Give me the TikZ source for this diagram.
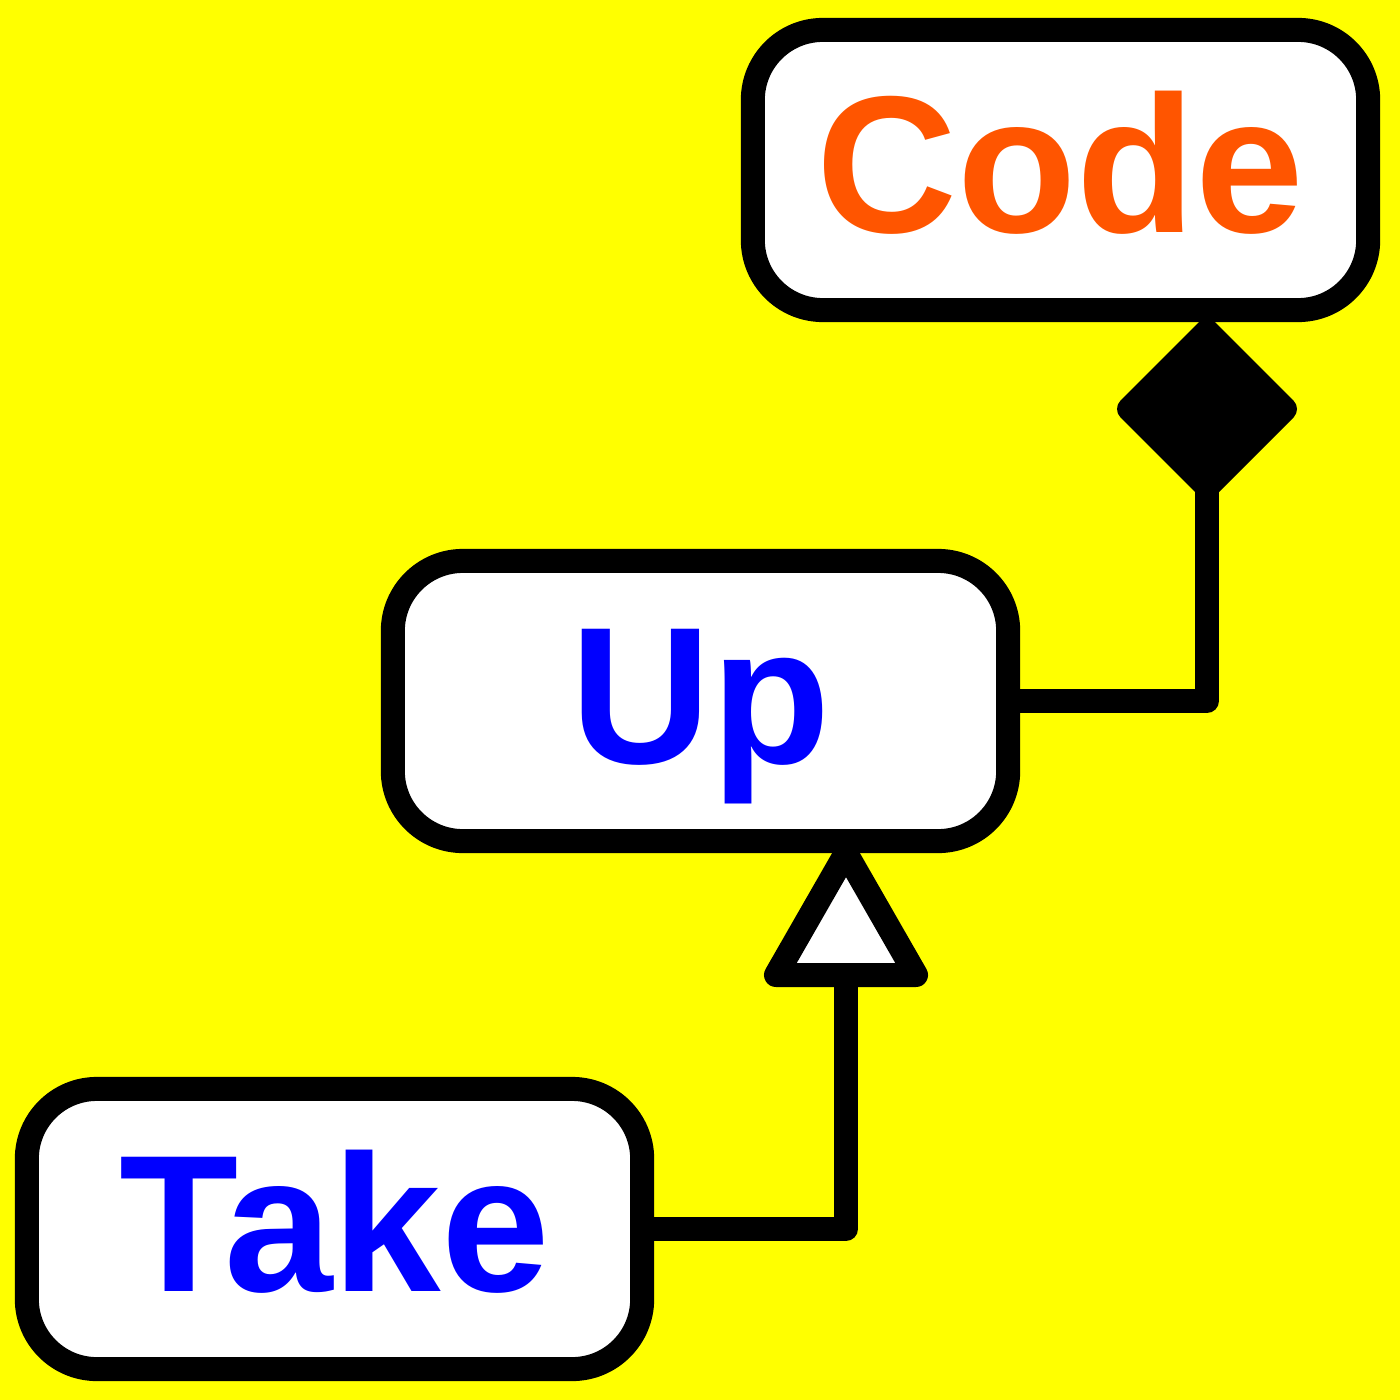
\documentclass[tikz,border=0pt]{standalone}
\usepackage{fontspec}
\setmainfont{Liberation Sans}
\definecolor{bgyellow}{HTML}{FFFF00}
\definecolor{codeorange}{HTML}{FF5500}
\definecolor{wordblue}{HTML}{0000FF}
\begin{document}
\begin{tikzpicture}[x=0.01cm,y=-0.01cm,
  box/.style={draw=black, fill=white, line width=0.24cm, rounded corners=0.70cm,
    minimum width=6.15cm, minimum height=2.8cm, inner sep=0pt,
    text height=1.40cm, text depth=0.16cm,
    font=\fontsize{55.5pt}{60pt}\selectfont\bfseries},
  conn/.style={draw=black, line width=0.24cm, line join=round}]
\fill[bgyellow] (0,0) rectangle (1400,1400);
\useasboundingbox (0,0) rectangle (1400,1400);

\node[box, text=codeorange] (code) at (1060.5,170) {Code};
\node[box, text=wordblue] (up) at (700.5,701) {Up};
\node[box, text=wordblue] (take) at (334.5,1229) {Take};

% generalization triangle
\coordinate (triapex) at (846,853);
\coordinate (trileft) at (776,975);
\coordinate (triright) at (916,975);
\coordinate (tribase) at (846,975);
\draw[conn] (take.east) -| (tribase);
\draw[conn, fill=white] (triapex) -- (triright) -- (trileft) -- cycle;

% composition diamond
\coordinate (dtop) at (1207,331);
\coordinate (dright) at (1285,409);
\coordinate (dbottom) at (1207,487);
\coordinate (dleft) at (1129,409);
\draw[conn] (up.east) -| (dbottom);
\draw[conn, fill=black] (dtop) -- (dright) -- (dbottom) -- (dleft) -- cycle;
\end{tikzpicture}
\end{document}
